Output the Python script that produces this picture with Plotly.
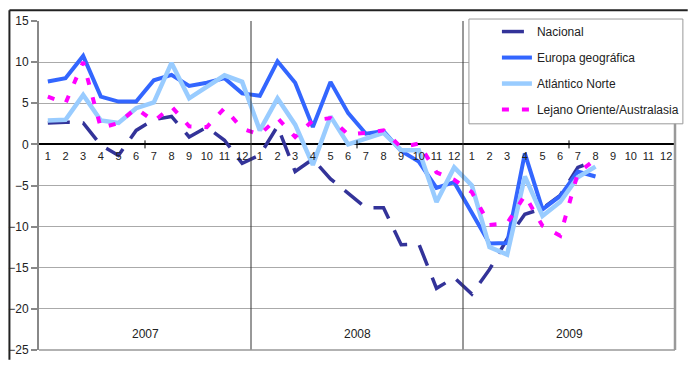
import plotly.graph_objects as go

# Monthly series, Jan 2007 - Aug 2009 (index 0 = Jan 2007)
nacional = [2.6, 2.7, 2.6, -0.1, -1.35, 1.7, 3.0, 3.4, 0.9, 2.1, 0.5, -2.3,
            -1.3, 2.2, -3.3, -1.8, -4.2, -6.0, -7.7, -7.7, -12.2, -12.1, -17.5, -16.2,
            -18.2, -15.2, -11.5, -8.5, -7.8, -6.2, -2.8, -2.0]
europa = [7.65, 8.05, 10.75, 5.8, 5.2, 5.2, 7.8, 8.45, 7.1, 7.5, 8.05, 6.2,
          5.9, 10.1, 7.5, 2.1, 7.6, 3.8, 1.3, 1.6, -0.8, -2.1, -5.3, -4.6,
          -8.3, -12.05, -12.0, -1.1, -7.9, -6.3, -3.3, -3.9]
atlantico = [2.9, 3.0, 6.0, 2.9, 2.6, 4.4, 5.1, 9.9, 5.6, 7.0, 8.4, 7.6,
             1.7, 5.6, 2.4, -2.5, 3.4, 0.0, 0.75, 1.4, -0.7, -0.7, -7.0, -2.8,
             -5.0, -12.5, -13.4, -3.9, -8.7, -7.0, -4.0, -2.7]
lejano = [5.8, 5.0, 10.0, 2.0, 2.6, 4.4, 2.8, 4.6, 2.2, 2.1, 4.4, 1.9,
          1.2, 3.2, 0.9, 2.9, 3.2, 1.2, 1.4, 1.7, -0.35, 0.1, -3.4, -4.3,
          -5.8, -9.8, -9.6, -6.2, -9.9, -11.1, -3.5, -1.8]

years = ["2007", "2008", "2009"]
months = [str(m) for m in range(1, 13)]
month_labels = months * len(years)

n_slots = len(month_labels)
slot_idx = list(range(n_slots))

FONT = "Arial, 'Liberation Sans', sans-serif"

series = [
    ("Nacional", nacional, dict(color="#333399", width=3.5, dash="22px,13px")),
    ("Europa geográfica", europa, dict(color="#3366FF", width=4)),
    ("Atlántico Norte", atlantico, dict(color="#99CCFF", width=4.5)),
    ("Lejano Oriente/Australasia", lejano, dict(color="#FF00FF", width=4, dash="7px,13px")),
]

fig = go.Figure()
for name, vals, line in series:
    fig.add_trace(go.Scatter(
        x=slot_idx[:len(vals)], y=vals, mode="lines", name=name,
        line=line, legendgroup=name, cliponaxis=True,
    ))

shapes = []
# year separators
for b in range(1, len(years)):
    shapes.append(dict(type="line", xref="x", yref="paper", x0=12 * b - 0.5, x1=12 * b - 0.5,
                       y0=0, y1=1, line=dict(color="#333333", width=1), layer="above"))
# small ticks in the middle of each year on the zero line
for b in range(len(years)):
    xm = 12 * b + 5.5
    shapes.append(dict(type="line", xref="x", yref="y", x0=xm, x1=xm, y0=0,
                       ysizemode="pixel", yanchor=0, y1=-4,
                       line=dict(color="#000000", width=1)))
    shapes[-1]["y0"] = 4
# right and bottom edges of the plot area
shapes.append(dict(type="line", xref="paper", yref="paper", x0=1, x1=1, y0=0, y1=1,
                   line=dict(color="#999999", width=2.5), layer="above"))
shapes.append(dict(type="line", xref="paper", yref="paper", x0=0, x1=1, y0=0, y1=0,
                   line=dict(color="#999999", width=1.5), layer="above"))
# outer chart frame (top and left edges)
shapes.append(dict(type="line", xref="paper", yref="paper", x0=-0.0465, x1=1.02,
                   y0=1.0327, y1=1.0327, line=dict(color="#222222", width=2)))
shapes.append(dict(type="line", xref="paper", yref="paper", x0=-0.0465, x1=-0.0465,
                   y0=-0.03, y1=1.0327, line=dict(color="#222222", width=2)))
# legend box
shapes.append(dict(type="rect", xref="paper", yref="paper", x0=0.676, x1=1.0124,
                   y0=0.6875, y1=1.006, line=dict(color="#999999", width=1),
                   fillcolor="white", layer="above"))

annotations = [
    dict(x=12 * i + 5.5, y=-23, xref="x", yref="y", text=yr, showarrow=False,
         font=dict(family=FONT, size=12, color="#222222"))
    for i, yr in enumerate(years)
]

fig.update_layout(
    width=692, height=365,
    margin=dict(l=36, r=11, t=21, b=8),
    paper_bgcolor="white", plot_bgcolor="white",
    font=dict(family=FONT, size=12, color="#222222"),
    showlegend=True,
    legend=dict(x=0.72, y=1.012, xanchor="left", yanchor="top", bgcolor="rgba(0,0,0,0)",
                borderwidth=0, font=dict(family=FONT, size=12, color="#222222"),
                tracegroupgap=7),
    xaxis=dict(range=[-0.5, n_slots - 0.5], tickmode="array", tickvals=slot_idx,
               ticktext=month_labels, showgrid=False, zeroline=False, showline=False,
               ticks="", anchor="free", position=25 / 40, ticklabelstandoff=4,
               tickfont=dict(family=FONT, size=11, color="#222222")),
    yaxis=dict(range=[-25, 15], dtick=5, showgrid=True, gridcolor="#aaaaaa", gridwidth=1,
               zeroline=True, zerolinecolor="#000000", zerolinewidth=1.5,
               showline=True, linecolor="#888888", linewidth=2,
               ticks="outside", ticklen=6, tickcolor="#888888", tickwidth=1.5,
               tickfont=dict(family=FONT, size=12, color="#222222")),
    shapes=shapes,
    annotations=annotations,
)

fig.write_html("out.html")
